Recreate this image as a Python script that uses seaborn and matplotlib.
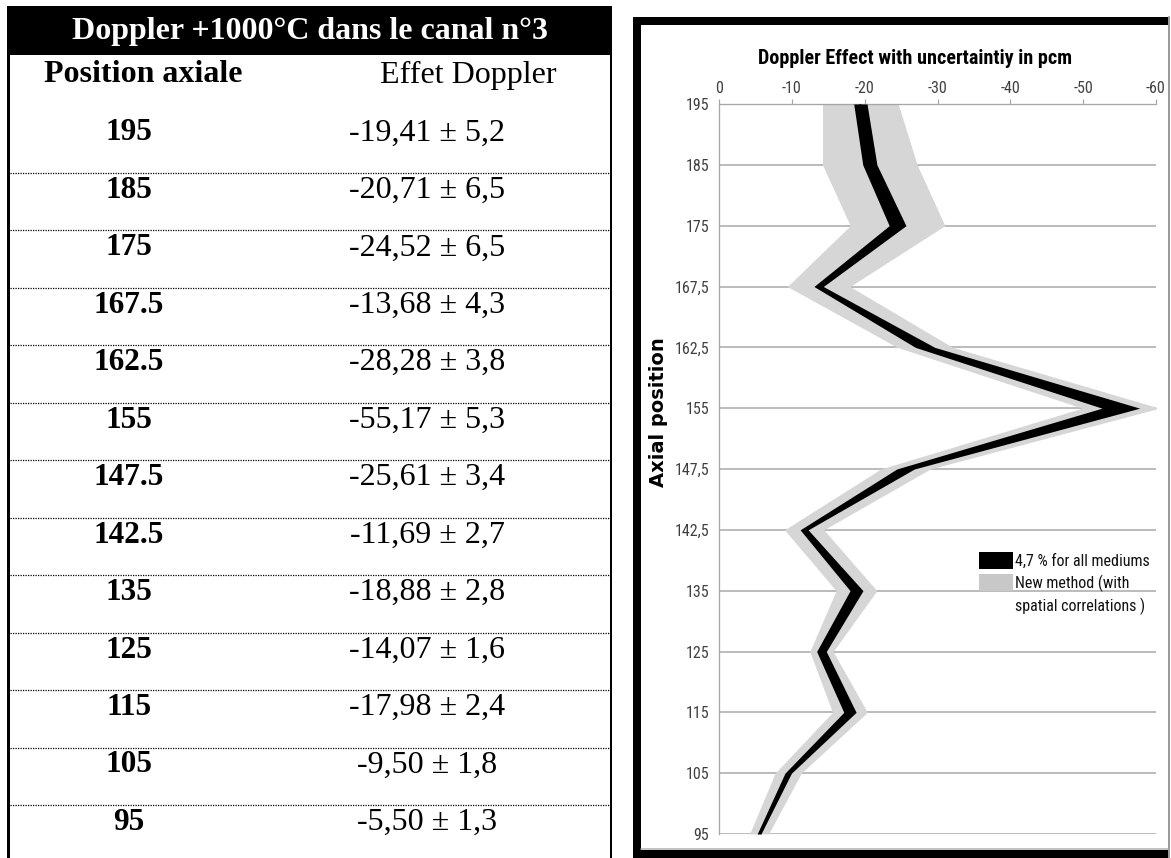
import numpy as np
import pandas as pd
import seaborn as sns
import matplotlib
matplotlib.use("Agg")
import matplotlib.pyplot as plt
from matplotlib.patches import Rectangle, Patch

# ---------------- data ----------------
table_title = "Doppler +1000°C dans le canal n°3"
col_headers = ["Position axiale", "Effet Doppler"]
positions_table = ["195", "185", "175", "167.5", "162.5", "155", "147.5",
                   "142.5", "135", "125", "115", "105", "95"]
positions_chart = ["195", "185", "175", "167,5", "162,5", "155", "147,5",
                   "142,5", "135", "125", "115", "105", "95"]
doppler_effect = [-19.41, -20.71, -24.52, -13.68, -28.28, -55.17, -25.61,
                  -11.69, -18.88, -14.07, -17.98, -9.50, -5.50]
uncertainty = [5.2, 6.5, 6.5, 4.3, 3.8, 5.3, 3.4, 2.7, 2.8, 1.6, 2.4, 1.8, 1.3]
relative_unc_pct = 4.7
x_ticks = [0, -10, -20, -30, -40, -50, -60]
chart_title = "Doppler Effect with uncertaintiy in pcm"
y_label = "Axial position"
legend_labels = ["4,7 % for all mediums", "New method (with", "spatial correlations )"]

# ---------------- style ----------------
sns.set_theme(style="white")
plt.rcParams["font.family"] = ["DejaVu Sans"]
plt.rcParams["axes.unicode_minus"] = False

W, H = 1171, 858
fig = plt.figure(figsize=(W / 100, H / 100), dpi=100)
fig.patch.set_facecolor("white")

PX = 0.72  # points per pixel
SERIF = ["Liberation Serif", "DejaVu Serif"]
NARROW = ["Roboto Condensed", "Liberation Sans Narrow", "Liberation Sans", "DejaVu Sans"]
GRID = "#a6a6a6"
TICKC = "#404040"

# ---------------- background / table axes (pixel coordinates) ----------------
bg = fig.add_axes([0, 0, 1, 1], zorder=0)
bg.set_xlim(0, W)
bg.set_ylim(H, 0)
bg.axis("off")

# table frame
bg.add_patch(Rectangle((7, 6), 604, 49, facecolor="black", edgecolor="none"))
bg.add_patch(Rectangle((7, 6), 3, H - 6, facecolor="black", edgecolor="none"))
bg.plot([610.5, 610.5], [6, H], color="black", lw=2 * PX, solid_capstyle="butt")

bg.text(310, 31, table_title, color="white", fontsize=23, fontweight="bold",
        family=SERIF, ha="center", va="center")
bg.text(143, 75, col_headers[0], color="black", fontsize=23, fontweight="bold",
        family=SERIF, ha="center", va="center")
bg.text(468, 75, col_headers[1], color="black", fontsize=23,
        family=SERIF, ha="center", va="center")

row0, row_step, sep0 = 133, 57.45, 173
n = len(positions_table)
for k in range(n):
    yk = row0 + row_step * k
    val = f"{doppler_effect[k]:.2f}".replace(".", ",") + " ± " + \
          f"{uncertainty[k]:.1f}".replace(".", ",")
    bg.text(129, yk, positions_table[k], fontsize=22.5, fontweight="bold",
            family=SERIF, ha="center", va="center", color="black")
    bg.text(427, yk, val, fontsize=23, family=SERIF, ha="center", va="center",
            color="black")
    if k < n - 1:
        ys = sep0 + row_step * k
        bg.plot([10, 609], [ys, ys], color="black", lw=0.9, ls=(0, (1, 1)))

# chart frame
bg.add_patch(Rectangle((633, 17), 8, H - 17, facecolor="black", edgecolor="none"))
bg.add_patch(Rectangle((633, 17), 535, 8, facecolor="black", edgecolor="none"))
bg.add_patch(Rectangle((633, 850), 537, 8, facecolor="black", edgecolor="none"))
bg.plot([1168.5, 1168.5], [17, H], color="#9a9a9a", lw=2 * PX)
bg.plot([641, 1168], [848.5, 848.5], color="#b0b0b0", lw=1.5 * PX)

# ---------------- chart axes ----------------
x0, x1, y0, y1 = 719, 1156, 104, 834
ax = fig.add_axes([x0 / W, 1 - y1 / H, (x1 - x0) / W, (y1 - y0) / H], zorder=1)
ax.set_facecolor("none")

idx = np.arange(n)
eff = np.array(doppler_effect)
unc = np.array(uncertainty)
rel = np.abs(eff) * relative_unc_pct / 100.0

df = pd.DataFrame({"position": idx, "effect": eff})

ax.fill_betweenx(idx, eff + unc, eff - unc, color="#d6d6d6", lw=0, zorder=2)
ax.fill_betweenx(idx, eff + rel, eff - rel, color="black", lw=0, zorder=3)
sns.lineplot(data=df, x="effect", y="position", orient="y", color="black",
             lw=1, ax=ax, zorder=4, legend=False)

ax.set_xlim(0, -60)
ax.set_ylim(n - 1, 0)
ax.xaxis.tick_top()
ax.set_xticks(x_ticks)
ax.set_xticklabels([str(t) for t in x_ticks])
ax.set_yticks(idx)
ax.set_yticklabels(positions_chart)
ax.tick_params(axis="x", direction="out", length=5 * PX, width=1.2 * PX,
               color=GRID, pad=2, labelsize=11.5, labelcolor=TICKC)
ax.tick_params(axis="y", length=0, pad=7, labelsize=11.5, labelcolor=TICKC)
for lab in ax.get_xticklabels() + ax.get_yticklabels():
    lab.set_family(NARROW)

ax.set_axisbelow(True)
ax.grid(axis="y", color=GRID, lw=1.5 * PX)
ax.grid(axis="x", visible=False)
for s in ["right", "bottom"]:
    ax.spines[s].set_visible(False)
for s in ["left", "top"]:
    ax.spines[s].set_color(GRID)
    ax.spines[s].set_linewidth(1.3 * PX)

ax.set_xlabel("")
ax.set_ylabel(y_label, fontsize=14, fontweight="bold", family="DejaVu Sans",
              color="black")
ax.yaxis.set_label_coords((658 - x0) / (x1 - x0), 1 - (412 - y0) / (y1 - y0))
ax.yaxis.label.set_va("center")

ax.set_title(chart_title, fontsize=14.5, fontweight="bold", family=NARROW,
             color="black", x=(915 - x0) / (x1 - x0),
             y=1 + (y0 - 59) / (y1 - y0), va="center", pad=0)

handles = [Patch(facecolor="black", edgecolor="none"),
           Patch(facecolor="#c8c8c8", edgecolor="none"),
           Patch(facecolor="none", edgecolor="none")]
leg = ax.legend(handles, legend_labels, loc="upper left",
                bbox_to_anchor=(979 / W, 1 - 552 / H),
                bbox_transform=fig.transFigure, frameon=False,
                handlelength=2.1, handleheight=1.25, handletextpad=0.15,
                labelspacing=0.35, borderpad=0, borderaxespad=0,
                prop={"family": NARROW, "size": 11.5})
for t in leg.get_texts():
    t.set_color("#111111")

fig.savefig("out.png", dpi=100, facecolor="white")
